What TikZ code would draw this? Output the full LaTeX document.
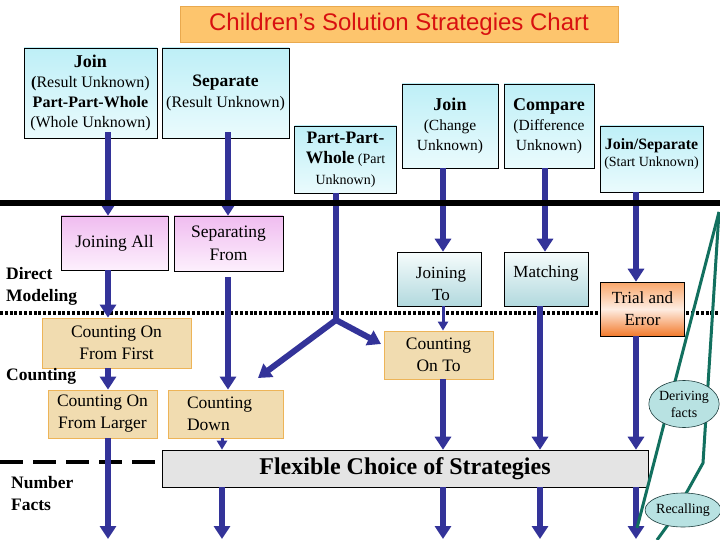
\documentclass[tikz,border=0pt]{standalone}
\usepackage{fontspec}
\setmainfont{Liberation Serif}
\newfontfamily\titlefont{Liberation Sans}
\usetikzlibrary{arrows.meta,shapes.geometric,calc}
\definecolor{arrowblue}{HTML}{333399}
\definecolor{cyantop}{HTML}{BEEFF7}
\definecolor{cyanbot}{HTML}{EAFBFD}
\definecolor{pinktop}{HTML}{F0BCF0}
\definecolor{pinkbot}{HTML}{FDF0FD}
\definecolor{tealtop}{HTML}{F6FCFC}
\definecolor{tealbot}{HTML}{B2D9DE}
\definecolor{tanfill}{HTML}{F1DCB0}
\definecolor{tanedge}{HTML}{EDB458}
\definecolor{ortop}{HTML}{F9A66A}
\definecolor{ormid}{HTML}{FEEDE2}
\definecolor{orbot}{HTML}{F27A2C}
\definecolor{titlefill}{HTML}{FDC56D}
\definecolor{titleedge}{HTML}{E9A94E}
\definecolor{titletext}{HTML}{D81010}
\definecolor{marble}{HTML}{E4E4E4}
\definecolor{bubblefill}{HTML}{B8E2E2}
\definecolor{bubbleedge}{HTML}{1F3F3F}
\definecolor{greenln}{HTML}{12705F}
\newcommand\myfs[2]{\fontsize{#1}{#2}\selectfont}
\tikzset{
  bluearrow/.style={draw=arrowblue, line width=6pt, -{Triangle[width=16pt,length=13pt]}},
  bluethin/.style={draw=arrowblue, line width=3pt, -{Triangle[width=10pt,length=9pt]}},
  blueline/.style={draw=arrowblue, line width=6pt},
  box/.style={draw=black, line width=0.6pt, inner sep=0pt, align=center},
  topbox/.style={box, top color=cyantop, bottom color=cyanbot},
  pinkbox/.style={box, top color=pinktop, bottom color=pinkbot, font=\myfs{17.5}{23}},
  tealbox/.style={box, top color=tealtop, bottom color=tealbot, font=\myfs{17}{22}},
  tanbox/.style={draw=tanedge, line width=0.8pt, fill=tanfill, inner sep=0pt, align=center, font=\myfs{17.5}{22}},
  orangebox/.style={box, top color=ortop, bottom color=orbot, middle color=ormid, font=\myfs{17}{22}},
  sidelabel/.style={font=\myfs{17.5}{22}\bfseries, align=left, inner sep=0pt, anchor=west},
  bubble/.style={ellipse, draw=bubbleedge, line width=0.6pt, fill=bubblefill, inner sep=0pt, align=center, font=\myfs{14}{17}},
  greenline/.style={draw=greenln, line width=3pt, line join=round},
}
\begin{document}
\begin{tikzpicture}[x=1pt,y=-1pt]
\useasboundingbox[fill=white] (0,0) rectangle (720,540);

% background rules
\draw[line width=4pt, dash pattern=on 3pt off 1.8pt] (0,313) -- (720,313);
\draw[line width=4pt, dash pattern=on 23pt off 10pt] (0,462) -- (160,462);

% title
\node[draw=titleedge, fill=titlefill, line width=0.8pt, minimum width=438, minimum height=36, inner sep=0pt,
      font=\titlefont\myfs{24}{26}, text=titletext] (title) at (399,24.5) {Children’s Solution Strategies Chart};

% problem types
\node[topbox, minimum width=133, minimum height=90, font=\myfs{16}{20}] (b1) at (90.5,93)
  {{\myfs{18}{20}\bfseries Join}\\{\bfseries(}Result Unknown)\\{\bfseries Part-Part-Whole}\\(Whole Unknown)};
\node[topbox, minimum width=127, minimum height=90, font=\myfs{16}{21}] (b2) at (225.5,93)
  {{\myfs{17.5}{21}\bfseries Separate}\\(Result Unknown)};
\node[topbox, minimum width=102, minimum height=67, font=\myfs{14}{20.5}] (b3) at (345.5,159.5)
  {{\myfs{17.5}{20.5}\bfseries Part-Part-}\\{\myfs{17.5}{20.5}\bfseries Whole} (Part\\Unknown)};
\node[topbox, minimum width=96, minimum height=84, font=\myfs{15.5}{20}] (b4) at (450,126)
  {{\myfs{18}{20}\bfseries Join}\\(Change\\Unknown)};
\node[topbox, minimum width=90, minimum height=84, font=\myfs{15.5}{20}] (b5) at (549,126)
  {{\myfs{18}{20}\bfseries Compare}\\(Difference\\Unknown)};
\node[topbox, minimum width=103, minimum height=66] (b6) at (651.5,159) {};
\node[align=center, inner sep=0pt, font=\myfs{14}{17}] (b6t) at (651.5,154.5)
  {{\myfs{15.8}{17}\bfseries Join/Separate}\\(Start Unknown)};

% direct modeling
\node[pinkbox, minimum width=107, minimum height=54] (ja) at (114.5,243) {Joining All};
\node[pinkbox, minimum width=109, minimum height=55] (sf) at (228.5,243.5) {Separating\\From};
\node[tealbox, minimum width=84, minimum height=54] (jt) at (439,279) {};
\node[inner sep=0pt, align=center, font=\myfs{17}{22}] (jtt) at (441,284) {Joining\\To};
\node[tealbox, minimum width=84, minimum height=54] (mt) at (546,279) {};
\node[inner sep=0pt, font=\myfs{17}{22}] (mtt) at (546,273) {Matching};
\node[orangebox, minimum width=84, minimum height=54] (te) at (642.5,309) {Trial and\\Error};

% counting
\node[tanbox, minimum width=149, minimum height=50] (cf) at (116.5,343) {Counting On\\From First};
\node[tanbox, minimum width=109, minimum height=48] (ct) at (438.5,355) {Counting\\On To};
\node[tanbox, minimum width=109, minimum height=48] (cl) at (102.5,414) {Counting On\\From Larger};
\node[tanbox, minimum height=48, align=left, text width=77, inner xsep=19pt] (cd) at (225.5,414) {Counting\\Down};

% flexible
\node[draw=black, line width=0.6pt, fill=marble, minimum width=486, minimum height=37, inner sep=0pt,
      font=\myfs{24}{26}\bfseries] (fl) at (405,468.5) {Flexible Choice of Strategies};

% side labels
\node[sidelabel] (dm) at (6,286) {Direct\\Modeling};
\node[sidelabel] (cnt) at (6,376) {Counting};
\node[sidelabel] (nf) at (11,494) {Number\\Facts};

% coordinates for arrow columns
\coordinate (xa) at (108,0);
\coordinate (xb) at (228,0);
\coordinate (xc) at (336,0);
\coordinate (xd) at (443,0);
\coordinate (xe) at (545,0);
\coordinate (xe2) at (540,0);
\coordinate (xf) at (636,0);
\coordinate (xg) at (222,0);
\coordinate (bot) at (0,539);
\coordinate (jn) at (336,320);
\coordinate (lt) at (258,378);
\coordinate (rt) at (381,344);

% arrows
\draw[bluearrow] ($(b1.south -| xa)+(0,-6)$) -- (ja.north -| xa);
\draw[bluearrow] ($(b2.south -| xb)+(0,-6)$) -- (sf.north -| xb);
\draw[bluearrow] (b4.south -| xd) -- (jt.north -| xd);
\draw[bluearrow] (b5.south -| xe) -- (mt.north -| xe);
\draw[bluearrow] (b6.south -| xf) -- (te.north -| xf);
\draw[bluearrow] (ja.south -| xa) -- (cf.north -| xa);
\draw[bluearrow] (cf.south -| xa) -- (cl.north -| xa);
\draw[bluearrow] (cl.south -| xa) -- (bot -| xa);
\draw[bluearrow] ($(sf.south -| xb)+(0,6)$) -- (cd.north -| xb);
\draw[bluethin] (cd.south -| xg) -- (fl.north -| xg);
\draw[bluearrow] (fl.south -| xg) -- (bot -| xg);
\draw[bluethin] (jt.south -| xd) -- (ct.north -| xd);
\draw[bluearrow] (ct.south -| xd) -- (fl.north -| xd);
\draw[bluearrow] (fl.south -| xd) -- (bot -| xd);
\draw[bluearrow] (mt.south -| xe2) -- (fl.north -| xe2);
\draw[bluearrow] (fl.south -| xe2) -- (bot -| xe2);
\draw[bluearrow] (te.south -| xf) -- (fl.north -| xf);
\draw[bluearrow] (fl.south -| xf) -- (bot -| xf);
\draw[blueline, line join=round] (b3.south -| xc) -- (jn);
\draw[bluearrow] (jn) -- (lt);
\draw[bluearrow] (jn) -- (rt);

% thick rule
\draw[line width=6pt] (0,203.5) -- (720,203.5);

% number facts lines
\coordinate (gtop) at (719,212);
\draw[greenline] (gtop) -- (637,528);
\draw[greenline] (gtop) -- (703,463) -- (688,490) -- (670,522) -- (657,540);
\node[bubble, minimum width=61, minimum height=47] (df) at (684,404) {Deriving\\facts};
\node[bubble, minimum width=72, minimum height=34] (rc) at (683,510) {Recalling};
\end{tikzpicture}
\end{document}
